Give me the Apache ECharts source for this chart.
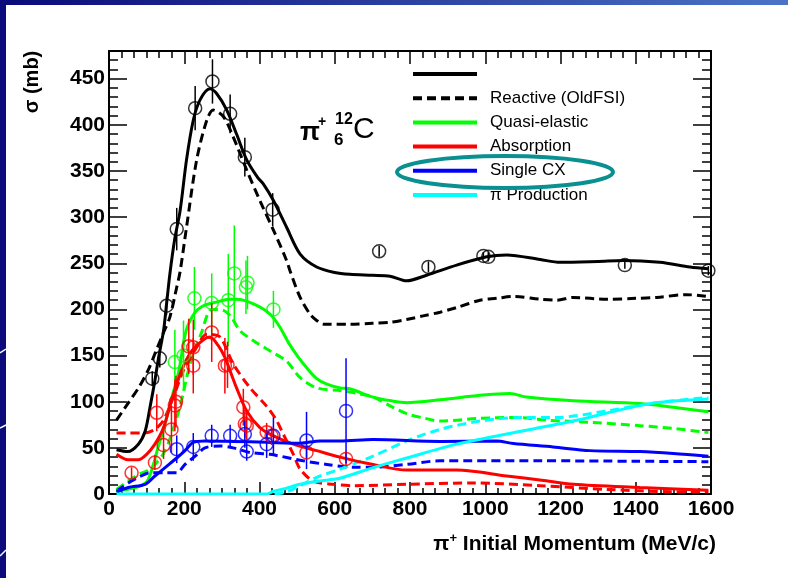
<!DOCTYPE html>
<html><head><meta charset="utf-8">
<script src="https://cdn.jsdelivr.net/npm/echarts@6/dist/echarts.min.js"></script>
<style>html,body{margin:0;padding:0;background:#fff}#c{width:788px;height:578px}</style>
</head><body><div id="c"></div>
<script>
// ---------- axis settings ----------
const xRange = [0, 1600];
const xStep = 200;
const yRange = [0, 480];
const yStep = 50;

// ---------- model curves [momentum MeV/c, sigma mb] ----------
const reactiveCurve = [[20,48],[50,46],[78,54],[96,68],[109,94],[122,123],[131,146],[145,177],[153,206],[162,239],[175,277],[189,307],[206,362],[224,405],[242,427],[268,439],[286,434],[313,416],[339,390],[366,362],[395,343],[410,336],[437,318],[472,289],[508,260],[552,246],[600,240],[640,238],[700,237],[747,236],[791,231],[844,237],[924,248],[1004,257],[1057,259],[1146,254],[1199,251],[1300,252],[1367,253],[1464,251],[1544,246],[1593,244]];
const reactiveOldCurve = [[20,80],[50,98],[80,116],[105,135],[125,155],[145,175],[162,192],[180,224],[189,241],[206,289],[233,362],[260,405],[277,416],[304,409],[330,387],[366,351],[401,318],[437,286],[472,253],[481,242],[508,213],[534,195],[552,188],[570,184],[640,184],[700,185],[747,186],[791,189],[835,193],[880,197],[924,202],[986,210],[1030,212],[1075,214],[1146,211],[1190,210],[1234,213],[1323,211],[1400,212],[1456,213],[1535,216],[1593,214]];
const qeCurve = [[20,3],[50,5],[78,8],[100,13],[115,28],[130,50],[145,70],[166,103],[186,134],[205,177],[229,197],[251,204],[275,207],[295,209],[320,211],[339,211],[384,206],[428,195],[454,181],[477,164],[500,150],[525,137],[552,125],[579,119],[614,115],[640,114],[702,105],[750,101],[791,99],[880,102],[986,107],[1066,109],[1110,105],[1234,101],[1411,98],[1500,94],[1593,89]];
const qeOldCurve = [[20,5],[51,14],[78,21],[100,25],[122,32],[145,44],[162,60],[189,95],[215,140],[246,175],[273,200],[304,199],[326,191],[348,177],[384,166],[428,155],[472,144],[508,126],[552,115],[614,112],[660,109],[702,105],[750,95],[791,87],[840,82],[880,79],[986,82],[1075,83],[1163,80],[1287,77.5],[1411,74],[1500,71],[1593,66.5]];
const absCurve = [[20,43],[51,37],[78,37],[100,43],[122,54],[145,72],[166,101],[193,134],[220,155],[251,167],[268,170],[290,161],[308,148],[325,130],[339,115],[366,90],[401,72],[437,63],[490,54],[552,47],[614,40],[702,32],[791,26],[924,26],[1057,19.5],[1150,15],[1234,10.5],[1411,7],[1593,4]];
const absOldCurve = [[20,66],[51,66],[91,66],[122,70],[145,80],[171,105],[198,134],[233,159],[260,173],[295,170],[330,141],[375,115],[419,95],[445,80],[463,65],[490,43],[508,27],[543,14],[596,10.5],[650,9],[791,10.5],[968,12],[1146,9],[1323,5],[1500,2.5],[1593,2.5]];
const cxCurve = [[20,2],[51,7],[96,10.5],[122,19.5],[149,28.6],[180,39],[202,47],[224,56],[255,57.5],[330,57],[419,56],[508,55],[561,57.5],[614,57.5],[702,59],[880,57],[1030,57.5],[1075,54.6],[1180,51],[1278,47],[1411,46],[1500,44],[1593,41]];
const cxOldCurve = [[20,3],[51,12],[78,18],[109,23],[149,23],[180,23],[202,32],[229,41],[255,50],[295,52],[330,50],[375,45],[428,43],[516,36],[579,32],[649,29],[702,29],[790,32],[880,36],[1146,36],[1400,35.5],[1593,35]];
const prodCurve = [[20,0],[200,0],[420,0],[437,3],[470,6],[508,10.5],[596,16],[614,17],[702,28.6],[791,39],[924,54],[1057,65],[1234,79],[1367,92],[1456,99],[1593,103]];
const prodOldCurve = [[440,0],[470,2],[499,7],[552,18],[614,27],[702,41],[791,57.5],[880,70],[986,79],[1101,83],[1190,83],[1323,90],[1456,99],[1593,104.5]];

// ---------- data points [momentum, sigma, error] ----------
const reactiveData = [[115,125,8],[135,147,10],[153,204,10],[180,287,23],[229,418,24],[275,447,24],[322,412,21],[361,365,21],[435,308,18],[718,263,6],[849,246,6],[995,258,4],[1008,257,5],[1371,248,4],[1593,242,5]];
const qeData = [[175,143,35],[198,150,38],[227,212,34],[273,207,32],[317,210,50],[333,239,52],[364,224,29],[368,229,29],[437,200,20]];
const absData = [[60,23,6],[122,34,8],[127,88,20],[145,53,15],[166,70,25],[175,96,28],[178,100,28],[212,160,30],[224,159,30],[224,139,30],[273,175,32],[308,139,30],[315,140,25],[357,94,20],[361,76,15],[366,74,15],[419,67,10],[432,63,10],[525,45,8],[630,38,8]];
const cxData = [[180,48.5,15],[224,51,15],[273,63,12],[322,63,12],[361,65,15],[366,46,10],[419,54,15],[437,63,20],[525,58,31],[630,90,57]];

// ---------- legend texts ----------
const legendLabels = ['', 'Reactive (OldFSI)', 'Quasi-elastic', 'Absorption', 'Single CX', '\u03c0 Production'];
const legendColors = ['#000000', '#000000', '#00ff00', '#ff0000', '#0000ff', '#00ffff'];
const legendDashed = [false, true, false, false, false, false];

const FONT = 'Liberation Sans, Arial, Helvetica, sans-serif';

function curve(name, data, color, dashed) {
  return {
    name: name, type: 'line', data: data, symbol: 'none', smooth: 0.3,
    xAxisIndex: 0, yAxisIndex: 0, clip: true, z: dashed ? 2 : 3,
    lineStyle: { color: color, width: 3, type: dashed ? [9, 5] : 'solid' },
    animation: false, silent: true
  };
}
function errBars(data, color) {
  return {
    type: 'custom', data: data, xAxisIndex: 0, yAxisIndex: 0, z: 4, silent: true, animation: false,
    encode: { x: 0, y: 1 },
    renderItem: function (params, api) {
      const x = api.value(0), y = api.value(1), e = api.value(2);
      const p1 = api.coord([x, y - e]), p2 = api.coord([x, y + e]);
      return { type: 'line', shape: { x1: p1[0], y1: p1[1], x2: p2[0], y2: p2[1] },
               style: { stroke: color, lineWidth: 1.5 } };
    }
  };
}
function points(data, color) {
  return {
    type: 'scatter', data: data.map(d => [d[0], d[1]]), xAxisIndex: 0, yAxisIndex: 0, z: 5,
    symbol: 'circle', symbolSize: 13, silent: true, animation: false,
    itemStyle: { color: 'rgba(0,0,0,0)', borderColor: color, borderWidth: 1.5 }
  };
}

function xAx(pos, showLabel, major, minor) {
  return {
    type: 'value', position: pos, min: xRange[0], max: xRange[1], interval: xStep,
    axisLine: { show: true, onZero: false, lineStyle: { color: '#000', width: 2 } },
    axisTick: { show: true, inside: true, length: major, lineStyle: { color: '#000', width: 1.5 } },
    minorTick: { show: true, splitNumber: 6, length: minor, lineStyle: { color: '#000', width: 1.5 } },
    splitLine: { show: false }, minorSplitLine: { show: false },
    axisLabel: { show: showLabel, formatter: v => String(v), fontFamily: FONT, fontWeight: 'bold', fontSize: 21, color: '#000', margin: 5 }
  };
}
function yAx(pos, showLabel) {
  return {
    type: 'value', position: pos, min: yRange[0], max: yRange[1], interval: yStep,
    axisLine: { show: true, onZero: false, lineStyle: { color: '#000', width: 2 } },
    axisTick: { show: true, inside: true, length: 18, lineStyle: { color: '#000', width: 1.5 } },
    minorTick: { show: true, splitNumber: 5, length: 9, lineStyle: { color: '#000', width: 1.5 } },
    splitLine: { show: false }, minorSplitLine: { show: false },
    axisLabel: { show: showLabel, showMaxLabel: false, formatter: v => String(v), fontFamily: FONT, fontWeight: 'bold', fontSize: 21, color: '#000', margin: 4 }
  };
}

const graphics = [];
// slide decoration
graphics.push({ type: 'rect', shape: { x: 0, y: 0, width: 788, height: 5 }, silent: true,
  style: { fill: new echarts.graphic.LinearGradient(0, 0, 1, 0, [{ offset: 0, color: '#0a0a78' }, { offset: 1, color: '#4b74c6' }]) } });
graphics.push({ type: 'rect', shape: { x: 0, y: 0, width: 6, height: 578 }, silent: true, style: { fill: '#0b0b7c' } });
[[353, 349], [428, 425], [556, 550]].forEach(p => {
  graphics.push({ type: 'line', shape: { x1: 0, y1: p[0], x2: 6, y2: p[1] }, silent: true, style: { stroke: '#ffffff', lineWidth: 1.5 } });
});
// legend
const legY0 = 74, legDy = 24.2;
legendLabels.forEach((t, i) => {
  const y = legY0 + i * legDy;
  graphics.push({ type: 'line', shape: { x1: 413, y1: y, x2: 477, y2: y }, silent: true,
    style: { stroke: legendColors[i], lineWidth: 4, lineDash: legendDashed[i] ? [9, 5] : null } });
  if (t) graphics.push({ type: 'text', x: 490, y: y, silent: true,
    style: { text: t, fontFamily: FONT, fontSize: 17, fill: '#000', verticalAlign: 'middle', align: 'left' } });
});
graphics.push({ type: 'ellipse', shape: { cx: 505, cy: 172, rx: 108, ry: 16 }, silent: true,
  style: { fill: 'none', stroke: '#0a9090', lineWidth: 4 } });
// annotation pi+ 12/6 C
graphics.push({ type: 'text', x: 300, y: 133, silent: true, style: { text: '\u03c0', fontFamily: FONT, fontWeight: 'bold', fontSize: 26, fill: '#000', verticalAlign: 'middle' } });
graphics.push({ type: 'text', x: 318, y: 122, silent: true, style: { text: '+', fontFamily: FONT, fontWeight: 'bold', fontSize: 14, fill: '#000', verticalAlign: 'middle' } });
graphics.push({ type: 'text', x: 335, y: 120, silent: true, style: { text: '12', fontFamily: FONT, fontWeight: 'bold', fontSize: 16, fill: '#000', verticalAlign: 'middle' } });
graphics.push({ type: 'text', x: 334, y: 140, silent: true, style: { text: '6', fontFamily: FONT, fontWeight: 'bold', fontSize: 17, fill: '#000', verticalAlign: 'middle' } });
graphics.push({ type: 'text', x: 353, y: 130, silent: true, style: { text: 'C', fontFamily: FONT, fontSize: 30, fill: '#000', verticalAlign: 'middle' } });
// axis titles
graphics.push({ type: 'text', x: 716, y: 544, silent: true, style: {
  text: '{a|\u03c0}{s|+}{a| Initial Momentum (MeV/c)}', align: 'right', verticalAlign: 'middle',
  rich: { a: { fontFamily: FONT, fontWeight: 'bold', fontSize: 21, fill: '#000' },
          s: { fontFamily: FONT, fontWeight: 'bold', fontSize: 13, fill: '#000', padding: [0, 0, 12, 0] } } } });
graphics.push({ type: 'text', x: 32, y: 82, rotation: Math.PI / 2, silent: true, style: {
  text: '\u03c3 (mb)', fontFamily: FONT, fontWeight: 'bold', fontSize: 20, fill: '#000', align: 'center', verticalAlign: 'middle' } });

const option = {
  backgroundColor: '#ffffff',
  animation: false,
  grid: { left: 109, right: 77, top: 51, bottom: 84, containLabel: false },
  xAxis: [xAx('bottom', true, 12, 6), xAx('top', false, 13, 7)],
  yAxis: [yAx('left', true), yAx('right', false)],
  series: [
    curve('Reactive (OldFSI)', reactiveOldCurve, '#000000', true),
    curve('Quasi-elastic OldFSI', qeOldCurve, '#00ff00', true),
    curve('Absorption OldFSI', absOldCurve, '#ff0000', true),
    curve('Single CX OldFSI', cxOldCurve, '#0000ff', true),
    curve('Production OldFSI', prodOldCurve, '#00ffff', true),
    curve('Reactive', reactiveCurve, '#000000', false),
    curve('Quasi-elastic', qeCurve, '#00ff00', false),
    curve('Absorption', absCurve, '#ff0000', false),
    curve('Single CX', cxCurve, '#0000ff', false),
    curve('\u03c0 Production', prodCurve, '#00ffff', false),
    errBars(reactiveData, '#000000'), points(reactiveData, '#000000'),
    errBars(qeData, '#00ff00'), points(qeData, '#00ff00'),
    errBars(absData, '#ff0000'), points(absData, '#ff0000'),
    errBars(cxData, '#0000ff'), points(cxData, '#0000ff')
  ],
  graphic: graphics
};
const chart = echarts.init(document.getElementById('c'), null, { renderer: 'canvas' });
chart.setOption(option);
</script></body></html>
